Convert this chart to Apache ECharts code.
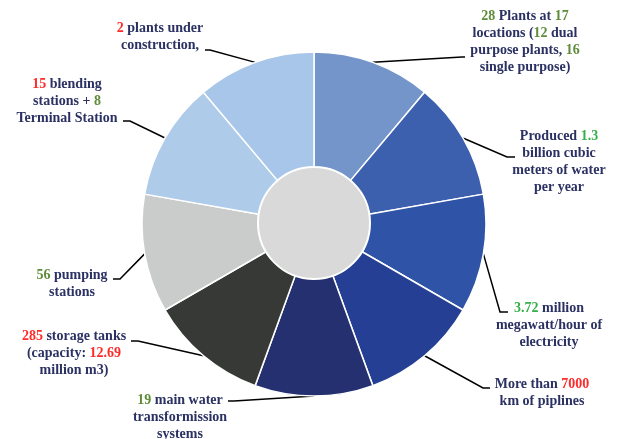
<!DOCTYPE html>
<html>
<head>
<meta charset="utf-8">
<style>
  html, body { margin: 0; padding: 0; background: #fff; }
  #chart { width: 618px; height: 439px; }
</style>
<script src="https://cdn.jsdelivr.net/npm/echarts@6/dist/echarts.min.js"></script>
</head>
<body>
<div id="chart"></div>
<script>
// Water infrastructure facts, one equal slice per fact (clockwise from 12 o'clock)
const facts = [
  '{g|28} Plants at {g|17}\nlocations ({g|12} dual\npurpose plants, {g|16}\nsingle purpose)',
  'Produced {b|1.3}\nbillion cubic\nmeters of water\nper year',
  '{b|3.72} million\nmegawatt/hour of\nelectricity',
  'More than {r|7000}\nkm of piplines',
  '{g|19} main water\ntransformission\nsystems',
  '{r|285} storage tanks\n(capacity: {r|12.69}\nmillion m3)',
  '{g|56} pumping\nstations',
  '{r|15} blending\nstations + {g|8}\nTerminal Station',
  '{r|2} plants under\nconstruction,'
];
const shares = [1, 1, 1, 1, 1, 1, 1, 1, 1];
const sliceColors = ['#7395c9', '#3d60ae', '#2f53a6', '#253f94', '#243070',
                     '#373937', '#cacccb', '#aecbea', '#a8c6e9'];

// Where each callout sits and how its leader line bends
const callouts = [
  { x: 525, y: 42,  elbow: [462, 57],  end: [465, 57] },
  { x: 559, y: 162, elbow: [507, 157], end: [515, 157] },
  { x: 549, y: 325, elbow: [500, 312], end: [508, 312] },
  { x: 542, y: 393, elbow: [483, 388], end: [490, 388] },
  { x: 180, y: 417, elbow: [234, 401], end: [228, 401] },
  { x: 74,  y: 353, elbow: [138, 341], end: [131, 341] },
  { x: 72,  y: 284, elbow: [120, 279], end: [113, 279] },
  { x: 67,  y: 101, elbow: [130, 121], end: [123, 121] },
  { x: 160, y: 37,  elbow: [210, 50],  end: [205, 50] }
];

const chart = echarts.init(document.getElementById('chart'), null, { renderer: 'canvas' });

const textFont = '"Liberation Serif", "DejaVu Serif", serif';

chart.setOption({
  animation: false,
  series: [
    {
      type: 'pie',
      center: [314, 224],
      radius: [40, 172],
      startAngle: 90,
      clockwise: true,
      silent: true,
      avoidLabelOverlap: false,
      itemStyle: { borderColor: '#ffffff', borderWidth: 1.5 },
      label: {
        show: true,
        position: 'outside',
        overflow: 'none',
        width: 200,
        formatter: p => p.name,
        color: '#2b3163',
        fontFamily: textFont,
        fontWeight: 'bold',
        fontSize: 14,
        lineHeight: 17,
        align: 'center',
        rich: {
          r: { color: '#ff2b2b', fontFamily: textFont, fontWeight: 'bold', fontSize: 14, lineHeight: 17 },
          g: { color: '#5e8c3a', fontFamily: textFont, fontWeight: 'bold', fontSize: 14, lineHeight: 17 },
          b: { color: '#35b04b', fontFamily: textFont, fontWeight: 'bold', fontSize: 14, lineHeight: 17 }
        }
      },
      labelLine: {
        show: true,
        length: 10,
        length2: 10,
        lineStyle: { color: '#000000', width: 1.5 }
      },
      labelLayout: function (params) {
        const c = callouts[params.dataIndex];
        const start = params.labelLinePoints ? params.labelLinePoints[0] : c.elbow;
        return {
          x: c.x,
          y: c.y,
          align: 'center',
          verticalAlign: 'middle',
          labelLinePoints: [start, c.elbow, c.end]
        };
      },
      data: facts.map((name, i) => ({
        name: name,
        value: shares[i],
        itemStyle: { color: sliceColors[i] }
      }))
    },
    {
      // light grey hub in the middle of the ring
      type: 'pie',
      center: [314, 223],
      radius: [0, 56],
      silent: true,
      label: { show: false },
      labelLine: { show: false },
      itemStyle: { color: '#d9d9d9', borderColor: '#ffffff', borderWidth: 2 },
      data: [{ name: 'hub', value: 1 }]
    }
  ]
});
</script>
</body>
</html>
